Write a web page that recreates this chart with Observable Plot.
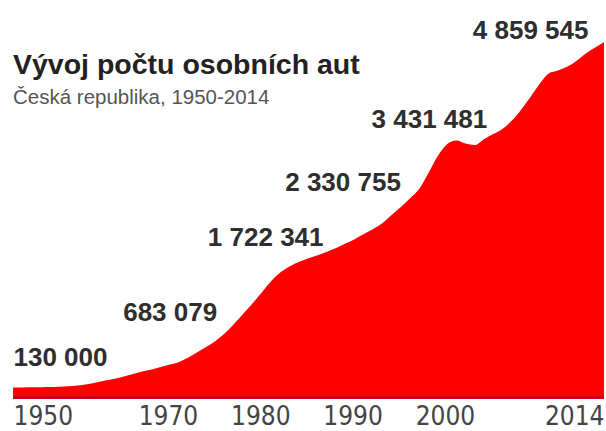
<!DOCTYPE html>
<html>
<head>
<meta charset="utf-8">
<script src="https://cdn.jsdelivr.net/npm/d3@7"></script>
<script src="https://cdn.jsdelivr.net/npm/@observablehq/plot@0.6"></script>
<style>
  html, body { margin: 0; padding: 0; background: #fff; }
  #wrap { position: relative; width: 606px; height: 431px; overflow: hidden; }
  #title { position: absolute; left: 13px; top: 50px; font: bold 28.5px/1 "Liberation Sans", Arial, sans-serif; color: #222; white-space: nowrap; }
  #subtitle { position: absolute; left: 13px; top: 87px; font: 20.5px/1 "Liberation Sans", Arial, sans-serif; color: #555; white-space: nowrap; }
</style>
</head>
<body>
<div id="wrap">
  <div id="chart"></div>
  <div id="title">Vývoj počtu osobních aut</div>
  <div id="subtitle">Česká republika, 1950-2014</div>
</div>
<script>
// Years 1950–2014 (one value per year)
const years = d3.range(1950, 2015);
// Number of passenger cars
const cars = [
  130000, 131000, 133000, 135000, 138000, 142000, 148000, 158000, 175000, 200000,      // 1950-1959
  225000, 250000, 280000, 315000, 350000, 375000, 410000, 445000, 480000, 540000,      // 1960-1969
  615000, 690000, 775000, 880000, 1010000, 1150000, 1290000, 1440000, 1590000, 1710000, // 1970-1979
  1790000, 1850000, 1900000, 1940000, 1990000, 2040000, 2100000, 2160000, 2230000, 2300000, // 1980-1989
  2380000, 2490000, 2600000, 2720000, 2850000, 3070000, 3300000, 3460000, 3510000, 3470000, // 1990-1999
  3450000, 3530000, 3600000, 3670000, 3780000, 3930000, 4100000, 4280000, 4430000, 4470000, // 2000-2009
  4520000, 4600000, 4700000, 4780000, 4859545                                               // 2010-2014
];
// Highlighted values
const labelYears = [1950, 1970, 1980, 1990, 2000, 2014];
const labelValues = [130000, 683079, 1722341, 2330755, 3431481, 4859545];
// Axis tick labels
const tickYears = [1950, 1970, 1980, 1990, 2000, 2014];

const data = years.map((year, i) => ({year, value: cars[i]}));
const fmt = v => d3.format(",")(v).replace(/,/g, " ");
const labels = labelYears.map((year, i) => ({year, value: labelValues[i], text: fmt(labelValues[i])}));

const labelOpts = [
  {textAnchor: "start", dx: 0, dy: -30},
  {textAnchor: "end", dx: 19, dy: -35},
  {textAnchor: "end", dx: 33, dy: -34},
  {textAnchor: "end", dx: 18, dy: -45},
  {textAnchor: "end", dx: 12, dy: -27},
  {textAnchor: "end", dx: -16, dy: -12}
];

const numFont = {fontFamily: "'Liberation Sans', Arial, sans-serif", fontWeight: "bold", fontSize: 26, fill: "#2e2e2e"};
const tickFont = {fontFamily: "'Liberation Sans Narrow', 'Arial Narrow', 'DejaVu Sans Condensed', sans-serif", fontSize: 26, fill: "#444"};

const chart = Plot.plot({
  width: 606,
  height: 431,
  marginLeft: 13,
  marginRight: 2,
  marginTop: 42,
  marginBottom: 34,
  x: {domain: [1950, 2014], label: null},
  y: {domain: [0, 4859545], axis: null},
  style: {background: "white", overflow: "visible"},
  marks: [
    Plot.areaY(data, {x: "year", y: "value", fill: "#ff0000", curve: "monotone-x"}),
    Plot.ruleY([0], {stroke: "#c8001c", strokeWidth: 3}),
    Plot.axisX(tickYears.slice(0, 1), {tickSize: 0, tickPadding: 9, textAnchor: "start", label: null, tickFormat: d => String(d), ...tickFont}),
    Plot.axisX(tickYears.slice(1), {tickSize: 0, tickPadding: 9, textAnchor: "end", label: null, tickFormat: d => String(d), ...tickFont}),
    ...labels.map((d, i) => Plot.text([d], {x: "year", y: "value", text: "text", ...labelOpts[i], ...numFont}))
  ]
});
document.getElementById("chart").appendChild(chart);
</script>
</body>
</html>
